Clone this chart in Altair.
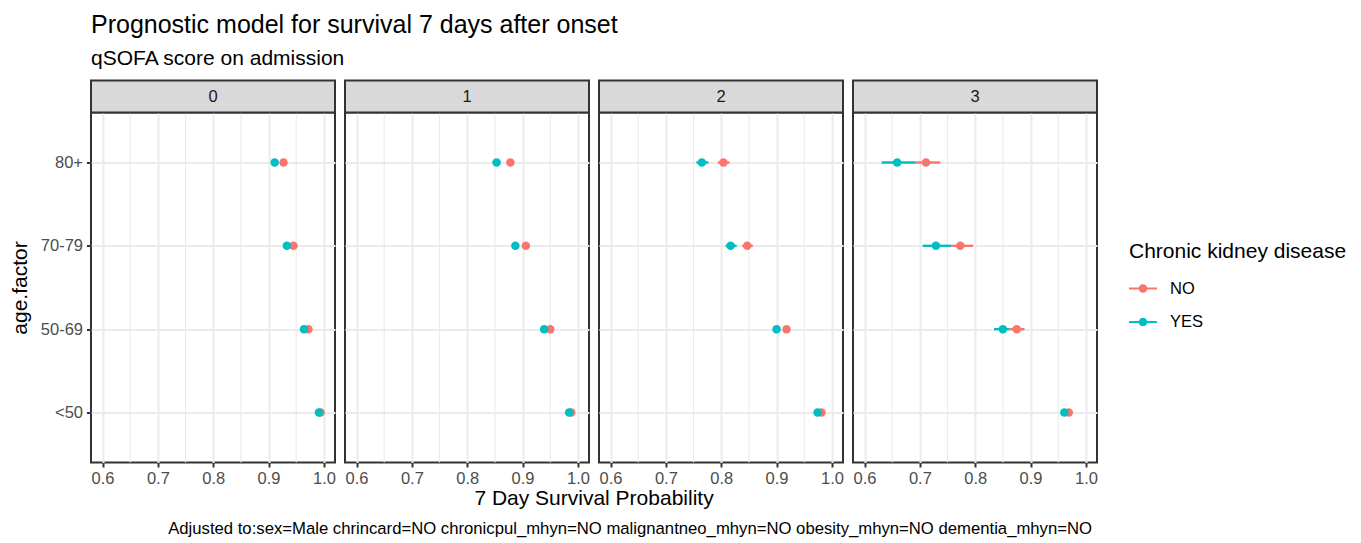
import altair as alt
import pandas as pd

panels = ["0", "1", "2", "3"]
age_levels = ["80+", "70-79", "50-69", "<50"]

# rows = qSOFA panels 0..3, columns follow age_levels
est_no = [[0.927, 0.945, 0.972, 0.994],
          [0.878, 0.906, 0.950, 0.988],
          [0.804, 0.847, 0.918, 0.981],
          [0.711, 0.773, 0.875, 0.969]]
lo_no = [[0.924, 0.942, 0.970, 0.993],
         [0.874, 0.902, 0.947, 0.986],
         [0.794, 0.838, 0.913, 0.978],
         [0.692, 0.757, 0.862, 0.965]]
hi_no = [[0.930, 0.948, 0.974, 0.995],
         [0.882, 0.910, 0.953, 0.990],
         [0.815, 0.857, 0.923, 0.984],
         [0.737, 0.796, 0.889, 0.973]]
est_yes = [[0.911, 0.933, 0.964, 0.991],
           [0.853, 0.887, 0.939, 0.984],
           [0.765, 0.817, 0.900, 0.974],
           [0.659, 0.729, 0.850, 0.961]]
lo_yes = [[0.907, 0.929, 0.961, 0.989],
          [0.846, 0.882, 0.935, 0.982],
          [0.755, 0.808, 0.895, 0.970],
          [0.631, 0.705, 0.834, 0.957]]
hi_yes = [[0.915, 0.937, 0.967, 0.993],
          [0.860, 0.892, 0.943, 0.986],
          [0.777, 0.828, 0.905, 0.978],
          [0.692, 0.757, 0.862, 0.965]]

x_ticks = [0.6, 0.7, 0.8, 0.9, 1.0]
x_minor = [0.65, 0.75, 0.85, 0.95]
x_domain = [0.5792, 1.0200]

title_text = "Prognostic model for survival 7 days after onset"
subtitle_text = "qSOFA score on admission"
x_title = "7 Day Survival Probability"
y_title = "age.factor"
legend_title = "Chronic kidney disease"
caption = ("Adjusted to:sex=Male chrincard=NO chronicpul_mhyn=NO "
           "malignantneo_mhyn=NO obesity_mhyn=NO dementia_mhyn=NO")

rows = []
for pi, p in enumerate(panels):
    for g, E, L, H in [("NO", est_no, lo_no, hi_no), ("YES", est_yes, lo_yes, hi_yes)]:
        for ai, a in enumerate(age_levels):
            rows.append(dict(qsofa=p, age=a, ckd=g, est=E[pi][ai], lo=L[pi][ai], hi=H[pi][ai]))
df = pd.DataFrame(rows)

W = 244
H = 350
STRIP = 32
FONT = "Liberation Sans"

xs = alt.Scale(domain=x_domain, nice=False, zero=False)
ys = alt.Scale(type="point", domain=age_levels, padding=0.6)
cscale = alt.Scale(domain=["NO", "YES"], range=["#F8766D", "#00BFC4"])

legend_path = ("M-1,-0.08H-0.3V0.08H-1Z M0.3,-0.08H1V0.08H0.3Z "
               "M0.31,0A0.31,0.31,0,1,1,-0.31,0A0.31,0.31,0,1,1,0.31,0Z")
legend = alt.Legend(title=legend_title, orient="none", legendX=1038, legendY=128,
                    symbolType=legend_path, symbolSize=784, symbolStrokeWidth=0,
                    titleFontSize=21, titleFontWeight="normal", titleColor="black",
                    titleLimit=400, labelLimit=200,
                    labelFontSize=16.5, labelColor="black", labelOffset=13,
                    titlePadding=13, rowPadding=10.5, padding=0)

xaxis = alt.Axis(values=x_ticks, format=".1f", title=None, grid=True,
                 gridColor="#EBEBEB", gridWidth=2, domain=False,
                 tickSize=4.5, tickWidth=2, tickColor="#333333",
                 labelFontSize=16.5, labelColor="#4D4D4D", labelPadding=3,
                 labelFlush=False, labelOverlap=False, labelBound=False)


def yaxis(first):
    if first:
        return alt.Axis(title=y_title, grid=True, gridColor="#EBEBEB", gridWidth=2,
                        domain=False, tickSize=4.5, tickWidth=2, tickColor="#333333",
                        labelFontSize=16.5, labelColor="#4D4D4D", labelPadding=4,
                        titleFontSize=21, titleFontWeight="normal", titleColor="black",
                        titlePadding=10)
    return alt.Axis(title=None, grid=True, gridColor="#EBEBEB", gridWidth=2,
                    domain=False, ticks=False, labels=False)


def panel(i, p):
    d = df[df.qsofa == p]
    minor = alt.Chart(pd.DataFrame({"m": x_minor})).mark_rule(
        color="#EBEBEB", strokeWidth=1.1).encode(
        x=alt.X("m:Q", scale=xs, axis=xaxis))
    base = alt.Chart(d)
    ci = base.mark_rule(strokeWidth=2.4).encode(
        x=alt.X("lo:Q", scale=xs, axis=xaxis),
        x2="hi:Q",
        y=alt.Y("age:N", scale=ys, sort=age_levels, axis=yaxis(i == 0)),
        color=alt.Color("ckd:N", scale=cscale, legend=legend))
    pts = base.mark_circle(size=72, opacity=1).encode(
        x=alt.X("est:Q", scale=xs, axis=xaxis),
        y=alt.Y("age:N", scale=ys, sort=age_levels, axis=yaxis(i == 0)),
        color=alt.Color("ckd:N", scale=cscale, legend=legend))
    sdf = pd.DataFrame({"label": [p]})
    strip = alt.Chart(sdf).mark_rect(fill="#D9D9D9", stroke="#333333", strokeWidth=2).encode(
        x=alt.value(0), x2=alt.value(W), y=alt.value(-STRIP), y2=alt.value(0))
    stext = alt.Chart(sdf).mark_text(fontSize=16.5, color="#1A1A1A", baseline="middle").encode(
        x=alt.value(W / 2), y=alt.value(-STRIP / 2), text="label:N")
    return alt.layer(minor, ci, pts, strip, stext).properties(
        width=W, height=H,
        view=alt.ViewBackground(stroke="#333333", strokeWidth=2, fill="white"))


row = alt.hconcat(*[panel(i, p) for i, p in enumerate(panels)], spacing=10, bounds="flush")

xt = alt.Chart(pd.DataFrame({"t": [x_title]})).mark_text(
    fontSize=21, color="black", align="center", baseline="alphabetic").encode(
    x=alt.value(503), y=alt.value(15.5), text="t:N")
cap = alt.Chart(pd.DataFrame({"t": [caption]})).mark_text(
    fontSize=16.7, color="black", align="right", baseline="alphabetic").encode(
    x=alt.value(1001), y=alt.value(44), text="t:N")
bottom = alt.layer(xt, cap).properties(
    width=1000, height=36, view=alt.ViewBackground(stroke="transparent"))

chart = alt.vconcat(row, bottom, spacing=0).properties(
    title=alt.Title(text=title_text, subtitle=subtitle_text, anchor="start", frame="group",
                    dx=0, fontSize=25, fontWeight="normal", color="black",
                    subtitleFontSize=21, subtitleColor="black", subtitlePadding=10,
                    offset=9.5),
    padding={"left": 0, "top": 4.5, "right": 5, "bottom": 0},
).configure(font=FONT).configure_view(stroke="transparent")

chart.save("out.html", embed_options={"renderer": "svg", "actions": False})
